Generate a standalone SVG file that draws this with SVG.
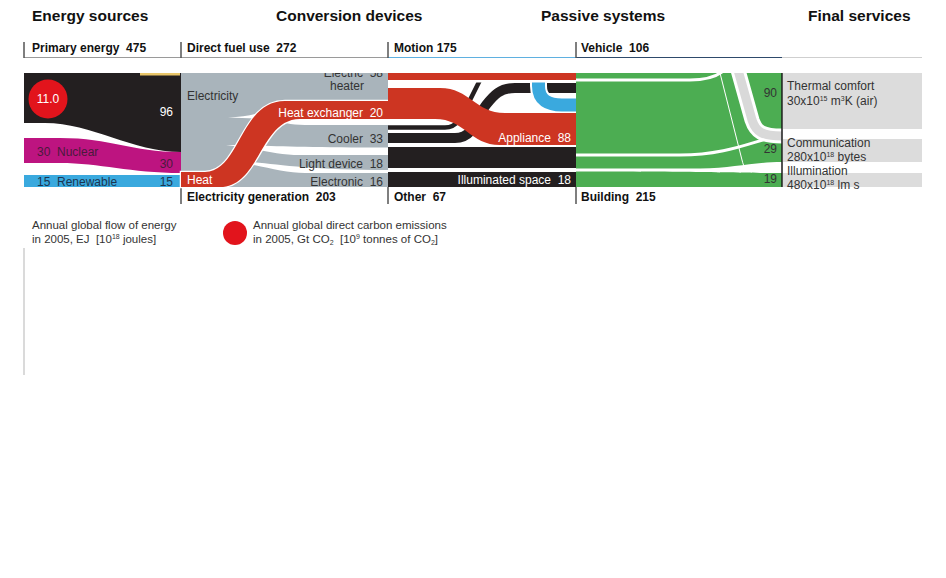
<svg xmlns="http://www.w3.org/2000/svg" width="946" height="578" viewBox="0 0 946 578" xml:space="preserve">
<defs>
<style>
text{font-family:"Liberation Sans",Arial,sans-serif;white-space:pre}
.title{font-size:15.5px;font-weight:bold;fill:#111}
.hdr{font-size:12px;font-weight:bold;fill:#111}
.lbl{font-size:12px;fill:#333}
.wl{font-size:12px;fill:#fff}
.leg{font-size:11.5px;fill:#333}
.blk{fill:#231f20}
.red{fill:#cd3522}
.gry{fill:#a9b4bb}
.grn{fill:#4cad52}
.fs{fill:#dcdcdc}
.gap{fill:#fff}
.tick{stroke:#555;stroke-width:1.5}
.wout{fill:none;stroke:#fff}
.sup{font-size:7px}
</style>
<clipPath id="flowclip"><rect x="181" y="73" width="207" height="114"/></clipPath>
</defs>
<rect width="946" height="578" fill="#fff"/>

<g id="titles">
<text class="title" x="32" y="21">Energy sources</text>
<text class="title" x="276" y="21">Conversion devices</text>
<text class="title" x="541" y="21">Passive systems</text>
<text class="title" x="808" y="21">Final services</text>
</g>

<g id="frame">
<line x1="24" y1="57.5" x2="388" y2="57.5" stroke="#9a9a9a" stroke-width="1.2"/>
<line x1="388" y1="57.5" x2="576" y2="57.5" stroke="#5fb0e0" stroke-width="1.2"/>
<line x1="576" y1="57.5" x2="782" y2="57.5" stroke="#2e4a6b" stroke-width="1.2"/>
<line x1="782" y1="57.5" x2="922" y2="57.5" stroke="#cfcfcf" stroke-width="1.2"/>
<line class="tick" x1="24" y1="42" x2="24" y2="58"/>
<line class="tick" x1="181" y1="42" x2="181" y2="58"/>
<line class="tick" x1="388" y1="42" x2="388" y2="58"/>
<line class="tick" x1="576" y1="42" x2="576" y2="58"/>
<line class="tick" x1="181" y1="187" x2="181" y2="204"/>
<line class="tick" x1="388" y1="187" x2="388" y2="204"/>
<line class="tick" x1="576" y1="187" x2="576" y2="204"/>
<line x1="24" y1="248" x2="24" y2="375" stroke="#b5b5b5" stroke-width="1"/>
</g>

<g id="headers">
<text class="hdr" x="32" y="52">Primary energy  475</text>
<text class="hdr" x="187" y="52">Direct fuel use  272</text>
<text class="hdr" x="394" y="52">Motion 175</text>
<text class="hdr" x="581" y="52">Vehicle  106</text>
<text class="hdr" x="187" y="201">Electricity generation  203</text>
<text class="hdr" x="394" y="201">Other  67</text>
<text class="hdr" x="581" y="201">Building  215</text>
</g>

<g id="node-fossil">
<path class="blk" d="M24,73 H181 V152 C132,152 92,123 45,123 H24 Z"/>
<rect x="140" y="73" width="40" height="2.5" fill="#e9c66a"/>
<text class="wl" x="173" y="116" text-anchor="end">96</text>
</g>
<g id="node-emission">
<circle cx="48" cy="99" r="19.5" fill="#e2141c"/>
<text class="wl" x="48" y="103" text-anchor="middle">11.0</text>
</g>
<g id="node-nuclear">
<path d="M24,138 H60 C112,138 130,152 181,152 V173 C130,173 100,163 60,163 H24 Z" fill="#bd1480"/>
<text x="37" y="156" style="font-size:12px;fill:#4a1a3c">30  Nuclear</text>
<text x="173" y="168" text-anchor="end" style="font-size:12px;fill:#4a1a3c">30</text>
</g>
<g id="node-renewable">
<rect x="24" y="175" width="157" height="12" fill="#3aa9de"/>
<text x="37" y="185.5" style="font-size:12px;fill:#1c3550">15  Renewable</text>
<text x="173" y="185.5" text-anchor="end" style="font-size:12px;fill:#1c3550">15</text>
</g>

<g id="node-electricity">
<rect class="gry" x="181" y="73" width="207" height="114"/>
<text class="lbl" x="187" y="100">Electricity</text>
<g clip-path="url(#flowclip)"><text class="lbl" x="383" y="77" text-anchor="end">Electric  58</text></g>
<text class="lbl" x="347" y="90" text-anchor="middle">heater</text>
</g>

<g id="connectors">
<path class="gap" d="M228,117.5 C248,117 262,113 273,107 L278,119 C260,118.6 245,118.2 228,117.5 Z"/>
<path class="gap" d="M272,119 H388 V125 H305 C290,125 282,122 272,119 Z"/>
<path class="gap" d="M226,145 C262,145 292,147.5 388,147.5 V155 H300 C275,155 255,148 226,145 Z"/>
<path class="gap" d="M228,160.5 C262,161 292,170 388,170 V173 H305 C282,173 256,164 228,160.5 Z"/>
<path class="red" d="M181,172 H205 C240,172 240,101 285,101 H388 V119 H300 C260,119 260,187 220,187 H181 Z" stroke="#fff" stroke-width="2.5" paint-order="stroke"/>

<path class="wout" stroke-width="8" d="M388,127.5 H445 C460,127.5 465,110 470,100 L482,76"/>
<path fill="none" stroke="#231f20" stroke-width="4.5" d="M388,127.5 H445 C460,127.5 465,110 470,100 L482,76"/>
<path class="wout" stroke-width="13" d="M388,138 H455 C475,138 478,115 486,105 C494,95 500,88 515,88 H576"/>
<path fill="none" stroke="#231f20" stroke-width="10" d="M388,138 H455 C475,138 478,115 486,105 C494,95 500,88 515,88 H576"/>
<path class="wout" stroke-width="17" d="M538.5,78 V86 C538.5,100 548,105 562,105 H576"/>
<path fill="none" stroke="#3aa9de" stroke-width="13" d="M538.5,78 V86 C538.5,100 548,105 562,105 H576"/>
<rect class="red" x="388" y="73" width="188" height="7"/>
<rect class="gap" x="388" y="80" width="188" height="2.5"/>
<path class="red" d="M388,88 H440 C470,88 475,113 505,113 H576 V145 H500 C470,145 465,119 435,119 H388 Z"/>

<rect class="grn" x="576" y="73" width="206" height="114"/>
<path class="wout" stroke-width="3" d="M576,80 H690 C705,80 715,77 722,72"/>
<path class="wout" stroke-width="3" d="M576,155 H680 C720,155 745,145 766,139"/>
<path class="gap" d="M576,168.5 H700 C735,168 752,162 782,162 V173 C740,173 700,171.5 576,171.5 Z"/>
<path class="wout" stroke-width="1" d="M720,73 L742,160 C744,168 746,171 752,172"/>
<path class="wout" stroke-width="15" d="M738,70 L752,120 C756,132 762,136 782,136"/>
<path fill="none" stroke="#d9d9d9" stroke-width="9" d="M738,70 L752,120 C756,132 762,136 782,136"/>
<rect class="gap" x="576" y="68" width="370" height="5"/>
</g>

<g id="node-direct-labels">
<text class="wl" x="187" y="184">Heat</text>
<text class="wl" x="383" y="117" text-anchor="end">Heat exchanger  20</text>
<text class="lbl" x="383" y="143" text-anchor="end">Cooler  33</text>
<text class="lbl" x="383" y="168" text-anchor="end">Light device  18</text>
<text class="lbl" x="383" y="186" text-anchor="end">Electronic  16</text>
</g>

<g id="node-other">
<rect class="blk" x="388" y="147" width="188" height="21"/>
<rect class="blk" x="388" y="172" width="188" height="15"/>
<text class="wl" x="571" y="142" text-anchor="end">Appliance  88</text>
<text class="wl" x="571" y="184" text-anchor="end">Illuminated space  18</text>
</g>

<g id="node-building">
<line x1="782" y1="73" x2="782" y2="187" stroke="#1a1a1a" stroke-width="1.5"/>
<text class="lbl" x="777" y="97" text-anchor="end">90</text>
<text class="lbl" x="777" y="153" text-anchor="end">29</text>
<text class="lbl" x="777" y="183" text-anchor="end">19</text>
</g>

<g id="node-thermal">
<rect class="fs" x="783" y="73" width="139" height="56"/>
<text class="lbl" x="787" y="90">Thermal comfort</text>
<text class="lbl" x="787" y="105">30x10<tspan class="sup" dy="-4">15</tspan><tspan dy="4"> m</tspan><tspan class="sup" dy="-4">3</tspan><tspan dy="4">K (air)</tspan></text>
</g>
<g id="node-communication">
<rect class="fs" x="783" y="139" width="139" height="23"/>
<text class="lbl" x="787" y="147">Communication</text>
<text class="lbl" x="787" y="161">280x10<tspan class="sup" dy="-4">18</tspan><tspan dy="4"> bytes</tspan></text>
</g>
<g id="node-illumination">
<rect class="fs" x="783" y="173" width="139" height="14"/>
<text class="lbl" x="787" y="175">Illumination</text>
<text class="lbl" x="787" y="189">480x10<tspan class="sup" dy="-4">18</tspan><tspan dy="4"> lm s</tspan></text>
</g>

<g id="legend">
<text class="leg" x="32" y="229">Annual global flow of energy</text>
<text class="leg" x="32" y="243">in 2005, EJ  [10<tspan class="sup" dy="-4">18</tspan><tspan dy="4"> joules]</tspan></text>
<circle cx="235" cy="233" r="12" fill="#e2141c"/>
<text class="leg" x="253" y="229">Annual global direct carbon emissions</text>
<text class="leg" x="253" y="243">in 2005, Gt CO<tspan class="sup" dy="2">2</tspan><tspan dy="-2">  [10</tspan><tspan class="sup" dy="-4">9</tspan><tspan dy="4"> tonnes of CO</tspan><tspan class="sup" dy="2">2</tspan><tspan dy="-2">]</tspan></text>
</g>
</svg>
